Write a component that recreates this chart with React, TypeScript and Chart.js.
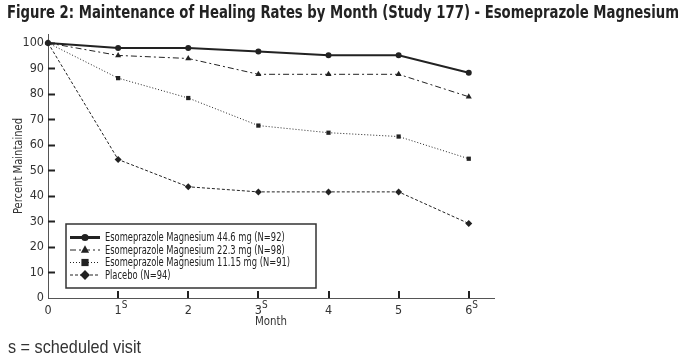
import React, { useEffect, useRef } from "react";
import { Chart, registerables } from "chart.js";

Chart.register(...registerables);

// ---- data ----
const months = [0, 1, 2, 3, 4, 5, 6];
const monthLabels = ["0", "1", "2", "3", "4", "5", "6"];
const scheduled = [false, true, false, true, false, false, true];
const yTicks = [0, 10, 20, 30, 40, 50, 60, 70, 80, 90, 100];

const seriesLabels = [
  "Esomeprazole Magnesium 44.6 mg (N=92)",
  "Esomeprazole Magnesium 22.3 mg (N=98)",
  "Esomeprazole Magnesium 11.15 mg (N=91)",
  "Placebo (N=94)",
];
const dose446 = [100, 98, 98, 96.6, 95.2, 95.2, 88.3];
const dose223 = [100, 95.1, 93.9, 87.7, 87.7, 87.7, 78.9];
const dose1115 = [100, 86.2, 78.4, 67.6, 64.8, 63.3, 54.6];
const placebo = [100, 54.3, 43.6, 41.6, 41.6, 41.6, 29.2];

const titleText =
  "Figure 2: Maintenance of Healing Rates by Month (Study 177) - Esomeprazole Magnesium";
const footerText = "s = scheduled visit";
const xTitle = "Month";
const yTitle = "Percent Maintained";

const NARROW = "'Liberation Sans Narrow', 'DejaVu Sans Condensed', 'Liberation Sans', sans-serif";
const SANS = "'Liberation Sans', Arial, sans-serif";
const INK = "#222";

const styles = [
  { dash: [] as number[], width: 2, point: "circle", r: 3 },
  { dash: [6, 3, 2, 3], width: 1, point: "triangle", r: 3.5 },
  { dash: [1, 2], width: 1, point: "rect", r: 3 },
  { dash: [3, 2], width: 1, point: "rectRot", r: 3.5 },
];

function drawMarker(ctx: CanvasRenderingContext2D, kind: string, x: number, y: number, r: number) {
  ctx.beginPath();
  if (kind === "circle") {
    ctx.arc(x, y, r, 0, Math.PI * 2);
  } else if (kind === "triangle") {
    ctx.moveTo(x, y - r * 1.15);
    ctx.lineTo(x + r, y + r * 0.7);
    ctx.lineTo(x - r, y + r * 0.7);
    ctx.closePath();
  } else if (kind === "rect") {
    ctx.rect(x - r, y - r, r * 2, r * 2);
  } else {
    ctx.moveTo(x, y - r * 1.2);
    ctx.lineTo(x + r * 1.2, y);
    ctx.lineTo(x, y + r * 1.2);
    ctx.lineTo(x - r * 1.2, y);
    ctx.closePath();
  }
  ctx.fill();
}

const decorPlugin = {
  id: "decor",
  afterDraw(chart: any) {
    const ctx: CanvasRenderingContext2D = chart.ctx;
    const xs = chart.scales.x;
    const ys = chart.scales.y;
    const area = chart.chartArea;
    ctx.save();
    ctx.setLineDash([]);
    // inward tick marks
    ctx.strokeStyle = INK;
    ctx.lineWidth = 2;
    yTicks.forEach((v) => {
      if (v === 0) return;
      const y = Math.round(ys.getPixelForValue(v)) + 0.5;
      ctx.beginPath();
      ctx.moveTo(area.left, y);
      ctx.lineTo(area.left + 7, y);
      ctx.stroke();
    });
    months.forEach((m) => {
      if (m === 0) return;
      const x = Math.round(xs.getPixelForValue(m));
      ctx.beginPath();
      ctx.moveTo(x, area.bottom);
      ctx.lineTo(x, area.bottom - 7);
      ctx.stroke();
    });
    // superscript S on scheduled visits
    ctx.fillStyle = "#333";
    ctx.font = `10px ${NARROW}`;
    ctx.textAlign = "left";
    ctx.textBaseline = "middle";
    months.forEach((m, i) => {
      if (!scheduled[i]) return;
      const x = xs.getPixelForValue(m);
      ctx.fillText("S", x + 3.5, area.bottom + 7);
    });
    // axis titles
    ctx.font = `13px ${NARROW}`;
    ctx.textAlign = "center";
    ctx.fillStyle = "#333";
    ctx.fillText(xTitle, (area.left + area.right) / 2, 322, 32);
    ctx.save();
    ctx.translate(19, (area.top + area.bottom) / 2);
    ctx.rotate(-Math.PI / 2);
    ctx.fillText(yTitle, 0, 0, 96);
    ctx.restore();
    ctx.textAlign = "left";
    // title
    ctx.fillStyle = INK;
    ctx.font = `bold 17px ${NARROW}`;
    ctx.fillText(titleText, 7, 14, 672);
    // footer
    ctx.font = `19px ${SANS}`;
    ctx.fillStyle = "#333";
    ctx.fillText(footerText, 8, 348, 133);
    // legend
    const bx = 66, by = 224, bw = 250, bh = 64;
    ctx.fillStyle = "#fff";
    ctx.fillRect(bx, by, bw, bh);
    ctx.strokeStyle = "#333";
    ctx.lineWidth = 1.5;
    ctx.strokeRect(bx, by, bw, bh);
    ctx.font = `12px ${NARROW}`;
    const longest = Math.max(...seriesLabels.map((l) => ctx.measureText(l).width));
    const k = Math.min(1, 185 / longest);
    seriesLabels.forEach((lab, i) => {
      const y = by + 13.5 + i * 12.5;
      const st = styles[i];
      ctx.strokeStyle = INK;
      ctx.lineWidth = i === 0 ? 3 : 1;
      ctx.setLineDash(st.dash);
      ctx.beginPath();
      ctx.moveTo(70, y);
      ctx.lineTo(100, y);
      ctx.stroke();
      ctx.setLineDash([]);
      ctx.fillStyle = INK;
      drawMarker(ctx, st.point, 85, y, st.r + 0.6);
      ctx.fillStyle = "#222";
      ctx.fillText(lab, 105, y + 0.5, ctx.measureText(lab).width * k);
    });
    ctx.restore();
  },
};

export default function App() {
  const ref = useRef<HTMLCanvasElement | null>(null);
  useEffect(() => {
    document.body.style.margin = "0";
    const canvas = ref.current;
    if (!canvas) return;
    const series = [dose446, dose223, dose1115, placebo];
    const chart = new Chart(canvas, {
      type: "line",
      data: {
        datasets: series.map((vals, i) => ({
          label: seriesLabels[i],
          data: months.map((m, j) => ({ x: m, y: vals[j] })),
          borderColor: INK,
          backgroundColor: INK,
          borderWidth: styles[i].width,
          borderDash: styles[i].dash,
          pointStyle: styles[i].point as any,
          pointRadius: styles[i].r,
          pointBorderWidth: 0,
          pointBackgroundColor: INK,
          tension: 0,
          fill: false,
          clip: false as any,
        })),
      },
      options: {
        animation: false,
        responsive: false,
        maintainAspectRatio: false,
        layout: { padding: { top: 34, right: 202, left: 0, bottom: 0 } },
        plugins: { legend: { display: false }, title: { display: false }, tooltip: { enabled: false } },
        scales: {
          x: {
            type: "linear",
            min: 0,
            max: 6.36,
            afterBuildTicks: (s: any) => {
              s.ticks = months.map((v) => ({ value: v }));
            },
            afterFit: (s: any) => {
              s.height = 60;
            },
            grid: { display: false, drawTicks: false },
            border: { display: true, color: "#555", width: 1 },
            ticks: {
              autoSkip: false,
              maxRotation: 0,
              padding: 5,
              color: "#333",
              font: { family: NARROW, size: 12.5 },
              callback: (v: any) => {
                const i = months.indexOf(Number(v));
                return i >= 0 ? monthLabels[i] : "";
              },
            },
          },
          y: {
            type: "linear",
            min: 0,
            max: 103.5,
            afterBuildTicks: (s: any) => {
              s.ticks = yTicks.map((v) => ({ value: v }));
            },
            afterFit: (s: any) => {
              s.width = 48;
            },
            grid: { display: false, drawTicks: false },
            border: { display: true, color: "#555", width: 1 },
            ticks: {
              padding: 4,
              color: "#333",
              font: { family: NARROW, size: 12.5 },
            },
          },
        },
      },
      plugins: [decorPlugin],
    });
    return () => chart.destroy();
  }, []);
  return (
    <div style={{ width: 696, height: 358 }}>
      <canvas ref={ref} width={696} height={358} style={{ display: "block" }} />
    </div>
  );
}
